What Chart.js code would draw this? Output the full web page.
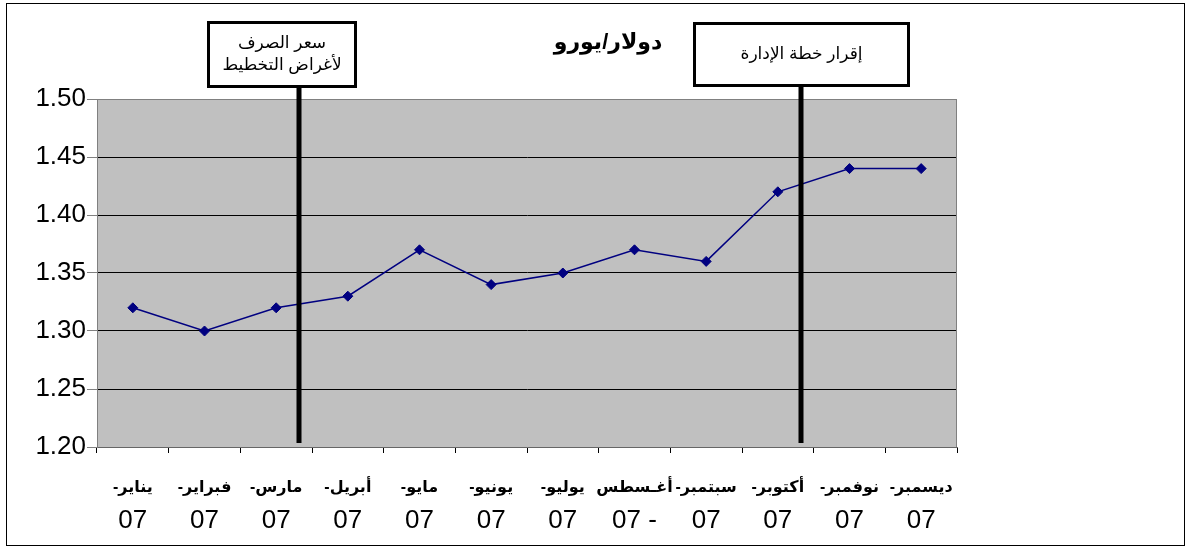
<!DOCTYPE html>
<html>
<head>
<meta charset="utf-8">
<script src="https://cdn.jsdelivr.net/npm/chart.js@4"></script>
<style>
  body { margin: 0; background: #fff; }
  #wrap { position: relative; width: 1187px; height: 547px; }
  #frame { position: absolute; left: 6px; top: 3px; width: 1177px; height: 541px; border: 1px solid #000; pointer-events: none; }
  canvas { position: absolute; left: 0; top: 0; }
</style>
</head>
<body>
<div id="wrap">
  <canvas id="rate-chart" width="1187" height="547"></canvas>
  <div id="frame"></div>
</div>
<script>
// سعر الدولار مقابل اليورو 2007
const months = ['يناير-', 'فبراير-', 'مارس-', 'أبريل-', 'مايو-', 'يونيو-', 'يوليو-', 'أغـسطس', 'سبتمبر-', 'أكتوبر-', 'نوفمبر-', 'ديسمبر-'];
const years  = ['07', '07', '07', '07', '07', '07', '07', '07 -', '07', '07', '07', '07'];
const rates  = [1.32, 1.30, 1.32, 1.33, 1.37, 1.34, 1.35, 1.37, 1.36, 1.42, 1.44, 1.44];
const yMin = 1.20, yMax = 1.50, yStep = 0.05;
const chartTitle = 'دولار/يورو';

// marker lines (category index units) + their notes
const markerPos   = [2.32, 9.32];
const markerNotes = [['سعر الصرف', 'لأغراض التخطيط'], ['إقرار خطة الإدارة']];

const FONT = "'Liberation Sans', 'DejaVu Sans', Arial, sans-serif";
const RLM  = '\u200F';

// note boxes: layout only
const noteBoxes = [
    { x: 207, y: 21, w: 150, h: 67 },
    { x: 693, y: 22, w: 217, h: 65 }
];

const decorPlugin = {
    id: 'decor',
    beforeDraw(chart) {
        const { ctx, chartArea: a } = chart;
        ctx.save();
        ctx.fillStyle = '#C0C0C0';
        ctx.fillRect(a.left, a.top, a.right - a.left, a.bottom - a.top);
        ctx.restore();
    },
    afterDatasetsDraw(chart) {
        const { ctx, chartArea: a } = chart;
        const x = chart.scales.x;
        ctx.save();
        // plot frame top/right
        ctx.strokeStyle = '#808080';
        ctx.lineWidth = 1;
        ctx.beginPath();
        ctx.moveTo(a.left, a.top + 0.5);
        ctx.lineTo(a.right - 0.5, a.top + 0.5);
        ctx.lineTo(a.right - 0.5, a.bottom);
        ctx.stroke();

        // vertical marker lines
        ctx.strokeStyle = '#000';
        ctx.lineWidth = 5;
        markerPos.forEach((p, i) => {
            const px = Math.round(x.getPixelForValue(p));
            const b = noteBoxes[i];
            ctx.beginPath();
            ctx.moveTo(px, b.y + b.h);
            ctx.lineTo(px, a.bottom - 4);
            ctx.stroke();
        });
        ctx.restore();
    },
    afterDraw(chart) {
        const { ctx } = chart;
        ctx.save();
        // title
        ctx.fillStyle = '#000';
        ctx.textAlign = 'center';
        ctx.textBaseline = 'middle';
        ctx.font = 'bold 22px ' + FONT;
        ctx.fillText(chartTitle, 608, 43);

        // note boxes
        noteBoxes.forEach((b, i) => {
            ctx.fillStyle = '#fff';
            ctx.fillRect(b.x, b.y, b.w, b.h);
            ctx.strokeStyle = '#000';
            ctx.lineWidth = 3;
            ctx.strokeRect(b.x + 1.5, b.y + 1.5, b.w - 3, b.h - 3);
            ctx.fillStyle = '#000';
            ctx.font = '17px ' + FONT;
            const lines = markerNotes[i];
            const lh = 22;
            const cy = b.y + b.h / 2 - (lines.length - 1) * lh / 2;
            lines.forEach((t, j) => ctx.fillText(t, b.x + b.w / 2, cy + j * lh));
        });
        ctx.restore();
    }
};

new Chart(document.getElementById('rate-chart'), {
    type: 'line',
    data: {
        labels: months.map(m => m + RLM),
        datasets: [{
            data: rates,
            borderColor: '#000080',
            backgroundColor: '#000080',
            borderWidth: 1.5,
            pointStyle: 'rectRot',
            pointRadius: 5,
            pointBorderWidth: 1,
            tension: 0,
            xAxisID: 'x',
            yAxisID: 'y'
        }]
    },
    options: {
        responsive: false,
        animation: false,
        devicePixelRatio: 1,
        layout: { padding: { left: 0, top: 99, right: 230, bottom: 0 } },
        plugins: { legend: { display: false }, tooltip: { enabled: false }, title: { display: false } },
        scales: {
            x: {
                type: 'category',
                position: 'bottom',
                weight: 0,
                offset: true,
                grid: { offset: true, drawOnChartArea: false, drawTicks: true, tickLength: 6, tickColor: '#000' },
                border: { color: '#666', width: 1 },
                ticks: {
                    autoSkip: false, maxRotation: 0, minRotation: 0, padding: 25,
                    color: '#000', font: { family: FONT, size: 16, weight: 'bold' }
                },
                afterFit: s => { s.height = 50; }
            },
            x2: {
                type: 'category',
                position: 'bottom',
                weight: 1,
                offset: true,
                labels: years,
                grid: { display: false },
                border: { display: false },
                ticks: {
                    autoSkip: false, maxRotation: 0, minRotation: 0, padding: 0,
                    color: '#000', font: { family: FONT, size: 26 }
                },
                afterFit: s => { s.height = 50; }
            },
            y: {
                min: yMin,
                max: yMax,
                grid: {
                    color: c => (c.tick && (Math.abs(c.tick.value - yMin) < 1e-6 || Math.abs(c.tick.value - yMax) < 1e-6)) ? '#808080' : '#000',
                    tickColor: '#808080',
                    tickLength: 10,
                    lineWidth: 1
                },
                border: { color: '#808080', width: 1 },
                ticks: {
                    stepSize: yStep,
                    padding: 1,
                    color: '#000',
                    font: { family: FONT, size: 26 },
                    callback: v => Number(v).toFixed(2)
                },
                afterFit: s => { s.width = 97; }
            }
        }
    },
    plugins: [decorPlugin]
});
</script>
</body>
</html>
